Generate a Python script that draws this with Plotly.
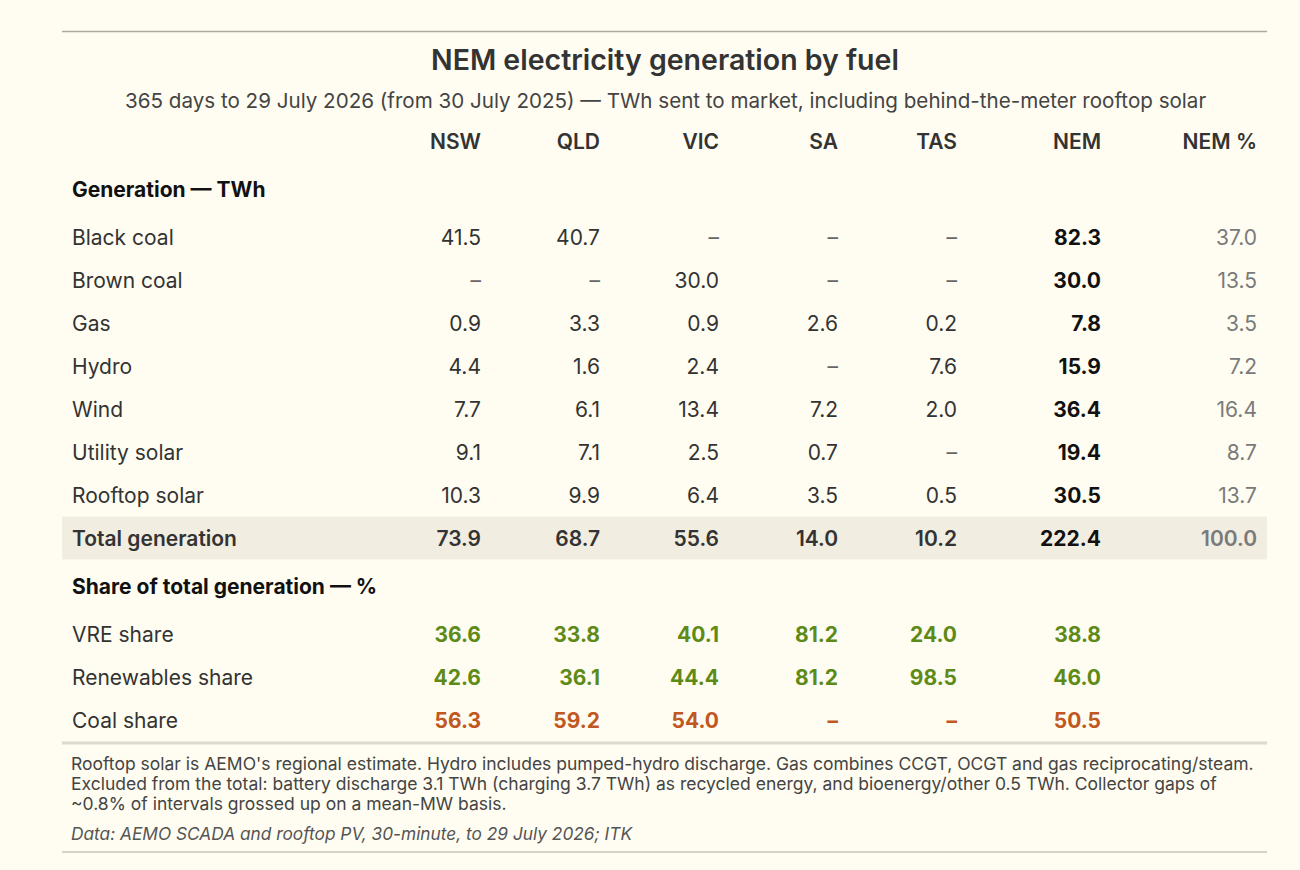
import plotly.graph_objects as go

# Data: NEM generation by fuel, TWh, 365 days to 29 July 2026
regions = ['NSW', 'QLD', 'VIC', 'SA', 'TAS']
fuels = ['Black coal', 'Brown coal', 'Gas', 'Hydro', 'Wind', 'Utility solar', 'Rooftop solar']
nsw = [41.5, None, 0.9, 4.4, 7.7, 9.1, 10.3]
qld = [40.7, None, 3.3, 1.6, 6.1, 7.1, 9.9]
vic = [None, 30.0, 0.9, 2.4, 13.4, 2.5, 6.4]
sa = [None, None, 2.6, None, 7.2, 0.7, 3.5]
tas = [None, None, 0.2, 7.6, 2.0, None, 0.5]
nem = [82.3, 30.0, 7.8, 15.9, 36.4, 19.4, 30.5]
nem_pct = [37.0, 13.5, 3.5, 7.2, 16.4, 8.7, 13.7]

region_totals = [73.9, 68.7, 55.6, 14.0, 10.2]
nem_total = 222.4
nem_total_pct = 100.0

share_labels = ['VRE share', 'Renewables share', 'Coal share']
vre_share = [36.6, 33.8, 40.1, 81.2, 24.0, 38.8]
renew_share = [42.6, 36.1, 44.4, 81.2, 98.5, 46.0]
coal_share = [56.3, 59.2, 54.0, None, None, 50.5]

footnote_lines = [
    "Rooftop solar is AEMO's regional estimate. Hydro includes pumped-hydro discharge. "
    "Gas combines CCGT, OCGT and gas reciprocating/steam.",
    "Excluded from the total: battery discharge 3.1 TWh (charging 3.7 TWh) as recycled "
    "energy, and bioenergy/other 0.5 TWh. Collector gaps of",
    "~0.8% of intervals grossed up on a mean-MW basis.",
]
source = 'Data: AEMO SCADA and rooftop PV, 30-minute, to 29 July 2026; ITK'

BG = '#fffdf1'
INK = '#333333'
DARK = '#111111'
GREY = '#7a7a7a'
DASH = '#666666'
GREEN = '#5e8a18'
ORANGE = '#c0581f'
FONT = 'Inter, Roboto, sans-serif'
SIZE = 21
TEXT_DY = 3  # plotly sets 'middle' text a little high


def fmt(v):
    return '–' if v is None else f'{v:.1f}'


# column right edges and row positions (layout)
col_x = {'NSW': 481, 'QLD': 600, 'VIC': 719, 'SA': 838, 'TAS': 957, 'NEM': 1101, 'NEM %': 1257}
label_x = 72

y = 141
y_header = y
y += 48
y_sec1 = y
fuel_y = []
for i in range(len(fuels)):
    y += 48 if i == 0 else 43
    fuel_y.append(y)
y += 43
y_total = y
y += 48
y_sec2 = y
share_y = []
for i in range(len(share_labels)):
    y += 48 if i == 0 else 43
    share_y.append(y)

cells = []  # (x, y, text, color, weight, position)


def cell(x, yy, text, color, weight='normal', pos='middle left'):
    cells.append((x, yy + TEXT_DY, text, color, weight, pos))


# header row
for name in list(col_x):
    cell(col_x[name], y_header, name, INK, 600)

# section heads
cell(label_x, y_sec1, 'Generation — TWh', DARK, 'bold', 'middle right')
cell(label_x, y_sec2, 'Share of total generation — %', DARK, 'bold', 'middle right')

# fuel rows
region_cols = [nsw, qld, vic, sa, tas]
for i, f in enumerate(fuels):
    yy = fuel_y[i]
    cell(label_x, yy, f, INK, 'normal', 'middle right')
    for r, col in zip(regions, region_cols):
        v = col[i]
        cell(col_x[r], yy, fmt(v), DASH if v is None else INK)
    cell(col_x['NEM'], yy, fmt(nem[i]), DARK, 'bold')
    cell(col_x['NEM %'], yy, fmt(nem_pct[i]), GREY)

# total row
cell(label_x, y_total, 'Total generation', INK, 600, 'middle right')
for r, v in zip(regions, region_totals):
    cell(col_x[r], y_total, fmt(v), INK, 600)
cell(col_x['NEM'], y_total, fmt(nem_total), DARK, 'bold')
cell(col_x['NEM %'], y_total, fmt(nem_total_pct), GREY, 600)

# share rows
for i, (lab, vals) in enumerate(zip(share_labels, [vre_share, renew_share, coal_share])):
    yy = share_y[i]
    color = ORANGE if lab == 'Coal share' else GREEN
    cell(label_x, yy, lab, INK, 'normal', 'middle right')
    for key, v in zip(regions + ['NEM'], vals):
        cell(col_x[key], yy, fmt(v), color, 'bold')

fig = go.Figure()

groups = {}
for c in cells:
    groups.setdefault((c[3], c[4], c[5]), []).append(c)

for (color, weight, pos), items in groups.items():
    fig.add_trace(go.Scatter(
        x=[c[0] for c in items],
        y=[c[1] for c in items],
        text=[c[2] for c in items],
        mode='text',
        textposition=pos,
        textfont=dict(family=FONT, size=SIZE, color=color, weight=weight),
        hoverinfo='skip',
        showlegend=False,
        cliponaxis=False,
    ))

shapes = [
    # total row band
    dict(type='rect', x0=62, x1=1267, y0=y_total - 21.5, y1=y_total + 21.5,
         fillcolor='#f2ede1', line=dict(width=0), layer='below'),
    # top rule
    dict(type='line', x0=62, x1=1267, y0=31.5, y1=31.5, line=dict(color='#aca99e', width=1.5)),
    # rule under table
    dict(type='line', x0=62, x1=1267, y0=743, y1=743, line=dict(color='#dcd9cf', width=3)),
    # bottom rule
    dict(type='line', x0=62, x1=1267, y0=852, y1=852, line=dict(color='#aca99e', width=1)),
]

annotations = [
    dict(x=665, y=59, text='NEM electricity generation by fuel', showarrow=False,
         xanchor='center', yanchor='middle',
         font=dict(family=FONT, size=28.5, color=INK, weight=600)),
    dict(x=665, y=100, showarrow=False, xanchor='center', yanchor='middle',
         text='365 days to 29 July 2026 (from 30 July 2025) — TWh sent to market, '
              'including behind-the-meter rooftop solar',
         font=dict(family=FONT, size=20.6, color='#444444')),
]
for i, line in enumerate(footnote_lines):
    annotations.append(dict(
        x=69, y=763 + 20 * i, showarrow=False, xanchor='left', yanchor='middle',
        text=line, font=dict(family=FONT, size=17.5, color='#444444')))
annotations.append(dict(
    x=69, y=833, showarrow=False, xanchor='left', yanchor='middle',
    text=f'<i>{source}</i>', font=dict(family=FONT, size=17.3, color='#555555')))

fig.update_layout(
    width=1300,
    height=870,
    margin=dict(l=0, r=0, t=0, b=0),
    paper_bgcolor=BG,
    plot_bgcolor=BG,
    xaxis=dict(range=[0, 1300], visible=False, fixedrange=True),
    yaxis=dict(range=[870, 0], visible=False, fixedrange=True),
    shapes=shapes,
    annotations=annotations,
)

fig.write_html(
    'out.html',
    config={'displayModeBar': False},
    post_script="document.body.style.margin='0';"
                "document.body.style.background='%s';"
                "document.body.style.overflow='hidden';" % BG,
)
